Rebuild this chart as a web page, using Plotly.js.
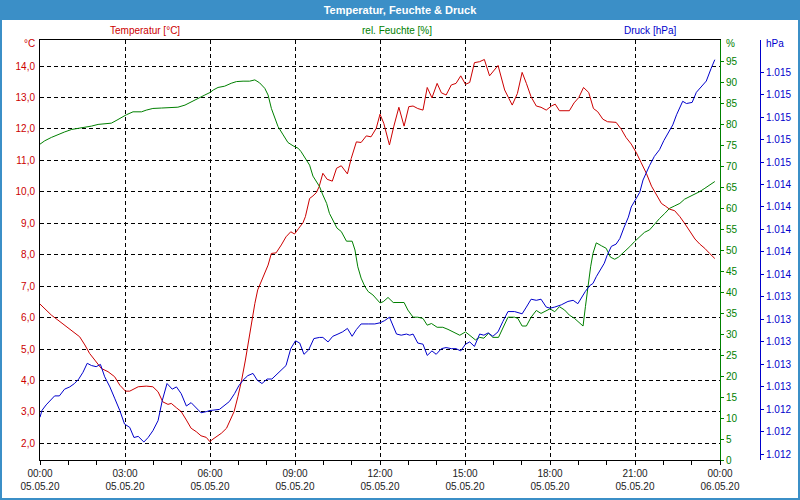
<!DOCTYPE html>
<html>
<head>
<meta charset="utf-8">
<script src="https://cdn.plot.ly/plotly-3.0.1.min.js"></script>
<style>html,body{margin:0;padding:0;background:#fff;}#chart{width:800px;height:500px;}</style>
</head>
<body>
<div id="chart"></div>
<script>
// ---- Data (hours after 05.05.20 00:00, value) ----
const tempHours = [0.00,0.16,0.40,0.64,0.87,1.05,1.22,1.40,1.58,1.75,1.93,2.16,2.40,2.64,2.81,3.01,3.16,3.46,3.75,3.99,4.16,4.34,4.52,4.64,4.81,4.99,5.16,5.34,5.52,5.69,5.87,6.00,6.05,6.22,6.40,6.58,6.69,6.85,6.99,7.11,7.25,7.36,7.46,7.58,7.69,7.84,7.95,8.05,8.16,8.34,8.52,8.69,8.85,8.99,9.13,9.28,9.36,9.52,9.64,9.75,9.85,9.99,10.14,10.31,10.46,10.64,10.85,10.99,11.16,11.34,11.52,11.69,11.87,12.00,12.14,12.20,12.34,12.49,12.67,12.85,13.01,13.16,13.34,13.52,13.66,13.84,14.01,14.16,14.34,14.52,14.69,14.85,15.01,15.16,15.34,15.52,15.69,15.87,16.01,16.16,16.40,16.66,16.85,17.01,17.16,17.34,17.52,17.69,17.87,18.05,18.19,18.34,18.69,18.85,19.01,19.19,19.36,19.54,19.69,19.86,20.04,20.34,20.52,20.69,20.87,21.05,21.22,21.40,21.58,21.75,21.93,22.07,22.22,22.40,22.58,22.75,22.93,23.11,23.28,23.46,23.64,23.82];
const tempValues = [6.43,6.29,6.08,5.92,5.76,5.63,5.50,5.39,5.13,4.86,4.65,4.38,4.28,4.12,3.85,3.66,3.66,3.80,3.82,3.80,3.64,3.32,3.24,3.27,3.13,3.01,2.74,2.48,2.37,2.24,2.19,2.05,2.10,2.21,2.32,2.48,2.69,3.01,3.48,4.01,4.65,5.29,5.92,6.45,6.88,7.19,7.46,7.67,8.04,8.06,8.31,8.57,8.73,8.66,8.84,9.02,9.21,9.79,9.87,9.97,10.16,10.59,10.40,10.34,10.75,10.83,10.57,11.06,11.59,11.57,11.78,11.75,12.02,12.47,12.18,11.96,11.49,12.07,12.69,12.09,12.71,12.73,12.65,12.60,13.32,12.99,13.45,13.15,13.08,13.40,13.45,13.69,13.42,13.48,14.11,14.14,14.21,13.69,13.87,14.02,13.24,12.76,13.13,13.80,13.45,13.02,12.73,12.69,12.60,12.73,12.79,12.58,12.58,12.83,13.00,13.32,13.16,12.65,12.55,12.31,12.23,12.21,11.99,11.73,11.52,11.24,10.93,10.59,10.18,9.92,9.63,9.55,9.45,9.40,9.21,9.00,8.73,8.50,8.34,8.20,8.04,7.88];

const humHours = [0.00,0.16,0.40,0.64,0.87,1.11,1.34,1.58,1.81,2.05,2.28,2.52,2.69,2.87,3.05,3.28,3.58,3.75,3.99,4.28,4.58,4.87,5.11,5.34,5.58,5.81,6.00,6.11,6.28,6.52,6.75,6.93,7.16,7.40,7.58,7.75,7.93,8.05,8.16,8.28,8.40,8.58,8.75,8.93,9.11,9.22,9.34,9.52,9.64,9.75,9.87,9.99,10.11,10.22,10.38,10.49,10.64,10.81,11.01,11.11,11.22,11.34,11.46,11.58,11.75,11.87,12.00,12.11,12.28,12.46,12.64,12.85,12.99,13.16,13.34,13.52,13.67,13.81,14.02,14.22,14.40,14.64,14.81,15.01,15.20,15.36,15.52,15.67,15.84,15.99,16.19,16.35,16.52,16.75,16.87,17.01,17.16,17.34,17.52,17.69,17.87,18.00,18.16,18.34,18.52,18.69,18.87,19.05,19.16,19.25,19.34,19.44,19.52,19.64,19.81,19.99,20.14,20.28,20.42,20.64,20.81,20.99,21.16,21.34,21.52,21.69,21.87,22.05,22.22,22.40,22.58,22.75,22.93,23.11,23.28,23.46,23.64,23.82];
const humValues = [75.2,76.0,76.8,77.5,78.1,78.7,78.9,79.2,79.5,79.9,80.0,80.2,80.8,81.6,82.2,82.9,82.9,83.3,83.7,83.8,83.9,84.0,84.5,85.3,86.1,86.9,87.5,88.1,88.7,89.0,89.7,90.1,90.2,90.2,90.5,89.8,88.5,86.9,83.7,81.3,79.4,77.4,75.6,74.8,74.2,73.4,72.1,70.2,67.6,66.3,65.1,63.1,61.1,58.7,56.7,55.2,54.4,52.1,52.1,50.0,46.0,43.3,41.3,40.1,39.3,38.5,37.4,37.7,38.7,37.5,37.5,37.5,35.7,34.0,34.0,33.7,32.1,32.5,31.6,31.6,31.1,30.3,29.7,30.5,29.5,28.6,29.2,29.0,30.2,29.2,29.2,31.7,34.0,34.0,33.7,31.9,31.9,34.0,35.6,34.9,35.6,36.0,35.3,36.5,35.7,34.5,33.7,32.7,31.9,36.5,41.3,46.0,49.2,51.7,51.0,50.4,48.3,47.8,48.3,49.6,50.8,52.0,53.2,54.2,54.8,56.2,57.5,58.7,59.9,60.5,61.1,62.1,62.7,63.3,63.9,64.7,65.5,66.3];

const presHours = [0.00,0.07,0.22,0.40,0.52,0.69,0.87,1.05,1.22,1.36,1.52,1.67,1.81,1.99,2.14,2.28,2.46,2.64,2.81,2.99,3.16,3.32,3.46,3.67,3.81,3.99,4.16,4.31,4.49,4.66,4.81,4.99,5.16,5.34,5.52,5.69,5.87,6.00,6.34,6.52,6.69,6.87,7.01,7.16,7.34,7.52,7.67,7.84,8.02,8.19,8.38,8.54,8.69,8.85,9.01,9.16,9.32,9.48,9.67,9.87,9.99,10.16,10.34,10.52,10.69,10.85,11.01,11.16,11.34,11.58,11.81,12.00,12.16,12.34,12.46,12.58,12.75,12.93,13.05,13.16,13.34,13.52,13.67,13.84,13.99,14.16,14.34,14.52,14.69,14.85,15.01,15.16,15.34,15.52,15.67,15.81,15.99,16.16,16.34,16.52,16.75,17.01,17.16,17.34,17.52,17.69,17.87,18.00,18.16,18.40,18.64,18.81,18.99,19.11,19.25,19.40,19.52,19.64,19.76,19.91,20.02,20.16,20.34,20.46,20.62,20.76,20.87,21.01,21.16,21.28,21.40,21.52,21.69,21.87,22.02,22.19,22.34,22.46,22.61,22.69,22.81,23.01,23.16,23.34,23.52,23.69,23.82];
const presValues = [1012.33,1012.39,1012.44,1012.49,1012.52,1012.52,1012.58,1012.60,1012.63,1012.67,1012.73,1012.81,1012.79,1012.78,1012.80,1012.69,1012.60,1012.50,1012.39,1012.27,1012.24,1012.15,1012.16,1012.11,1012.15,1012.21,1012.30,1012.48,1012.63,1012.58,1012.60,1012.54,1012.43,1012.46,1012.41,1012.37,1012.38,1012.39,1012.40,1012.44,1012.47,1012.54,1012.61,1012.66,1012.70,1012.72,1012.66,1012.63,1012.67,1012.67,1012.72,1012.75,1012.79,1012.94,1013.01,1012.99,1012.89,1012.93,1013.03,1013.04,1013.04,1013.00,1013.05,1013.07,1013.09,1013.12,1013.05,1013.11,1013.16,1013.16,1013.16,1013.17,1013.19,1013.22,1013.13,1013.07,1013.06,1013.07,1013.06,1013.07,1012.99,1012.98,1012.88,1012.92,1012.89,1012.94,1012.95,1012.94,1012.94,1012.92,1012.98,1013.00,1012.96,1013.07,1013.06,1013.08,1013.05,1013.09,1013.18,1013.27,1013.27,1013.25,1013.31,1013.38,1013.37,1013.38,1013.31,1013.30,1013.31,1013.33,1013.36,1013.37,1013.34,1013.40,1013.45,1013.50,1013.52,1013.58,1013.64,1013.70,1013.77,1013.85,1013.87,1013.92,1014.02,1014.11,1014.20,1014.26,1014.33,1014.44,1014.51,1014.57,1014.65,1014.71,1014.79,1014.87,1014.93,1015.02,1015.11,1015.14,1015.12,1015.13,1015.22,1015.27,1015.32,1015.43,1015.51];

// ---- Axis ticks / ranges ----
const tempTicks = [2,3,4,5,6,7,8,9,10,11,12,13,14];
const tempRange = [1.47, 14.83];
const humTicks = [0,5,10,15,20,25,30,35,40,45,50,55,60,65,70,75,80,85,90,95];
const humRange = [0, 100];
const presTicks = [1012.0,1012.2,1012.4,1012.6,1012.8,1013.0,1013.2,1013.4,1013.6,1013.8,1014.0,1014.2,1014.4,1014.6,1014.8,1015.0,1015.2,1015.4];
const presRange = [1011.95, 1015.685];

const titleText = 'Temperatur, Feuchte & Druck';
const seriesNames = ['Temperatur [°C]', 'rel. Feuchte [%]', 'Druck [hPa]'];
const unitLabels = ['°C', '%', 'hPa'];

// ---- Helpers ----
const base = Date.UTC(2020, 4, 5, 0, 0, 0);
const HOUR = 3600000;
const toTime = hs => hs.map(h => base + Math.round(h * 60) * 60000);

const W = 800, H = 500, ML = 40, MR = 40, MT = 40, MB = 40;
const fx = px => (px - ML) / (W - ML - MR);
const fy = py => (H - MB - py) / (H - MT - MB);

const FONT = '"Liberation Sans", Arial, sans-serif';
const RED = '#cc0000', GREEN = '#008000', BLUE = '#0000cc', BAR = '#3b8fc7';

const traces = [
  {x: toTime(humHours), y: humValues, yaxis: 'y2', type: 'scatter', mode: 'lines',
   line: {color: GREEN, width: 1}, hoverinfo: 'skip'},
  {x: toTime(presHours), y: presValues, yaxis: 'y3', type: 'scatter', mode: 'lines',
   line: {color: BLUE, width: 1}, hoverinfo: 'skip'},
  {x: toTime(tempHours), y: tempValues, yaxis: 'y', type: 'scatter', mode: 'lines',
   line: {color: RED, width: 1}, hoverinfo: 'skip'}
];

const layout = {
  width: W, height: H,
  margin: {l: ML, r: MR, t: MT, b: MB, pad: 0},
  paper_bgcolor: '#ffffff', plot_bgcolor: '#ffffff',
  showlegend: false,
  separators: ',.',
  font: {family: FONT, size: 10, color: '#222'},
  title: {text: titleText, font: {family: FONT, size: 11, color: '#ffffff', weight: 'bold'},
          x: 0.5, xref: 'container', xanchor: 'center', y: 1 - 10 / H, yref: 'container', yanchor: 'middle'},
  xaxis: {
    type: 'date', domain: [0, fx(720)],
    range: [base, base + 24 * HOUR],
    tick0: base, dtick: 3 * HOUR, tickformat: '%H:%M<br>%d.%m.%y',
    tickfont: {family: FONT, size: 10, color: '#222'},
    showgrid: true, gridcolor: '#000', gridwidth: 1, griddash: '4px,3px',
    showline: true, linecolor: '#000', linewidth: 1, mirror: true,
    ticks: 'outside', ticklen: 4, tickcolor: '#000', tickwidth: 1,
    minor: {dtick: HOUR, ticks: 'outside', ticklen: 4, tickcolor: '#000', tickwidth: 1, showgrid: false},
    zeroline: false, fixedrange: true
  },
  yaxis: {
    range: tempRange, tickvals: tempTicks, tickformat: '.1f',
    tickfont: {family: FONT, size: 10, color: RED},
    showgrid: true, gridcolor: '#000', gridwidth: 1, griddash: '4px,3px',
    showline: true, linecolor: '#000', linewidth: 1,
    ticks: 'outside', ticklen: 2, tickcolor: '#fff',
    zeroline: false, fixedrange: true
  },
  yaxis2: {
    overlaying: 'y', side: 'right', anchor: 'x',
    range: humRange, tickvals: humTicks, tickformat: 'd',
    tickfont: {family: FONT, size: 10, color: GREEN},
    showgrid: false, showline: true, linecolor: GREEN, linewidth: 1,
    ticks: 'outside', ticklen: 3, tickcolor: GREEN, tickwidth: 1,
    zeroline: false, fixedrange: true
  },
  yaxis3: {
    overlaying: 'y', side: 'right', anchor: 'free', position: 1,
    range: presRange, tickvals: presTicks, tickformat: ',.0f',
    tickfont: {family: FONT, size: 10, color: BLUE},
    showgrid: false, showline: true, linecolor: BLUE, linewidth: 1,
    ticks: 'outside', ticklen: 3, tickcolor: BLUE, tickwidth: 1,
    zeroline: false, fixedrange: true
  },
  shapes: [
    {type: 'rect', xref: 'paper', yref: 'paper', x0: fx(0), x1: fx(800), y0: fy(20), y1: fy(0),
     fillcolor: BAR, line: {width: 0}, layer: 'below'},
    {type: 'rect', xref: 'paper', yref: 'paper', x0: fx(1), x1: fx(799), y0: fy(499), y1: fy(1),
     fillcolor: 'rgba(0,0,0,0)', line: {color: BAR, width: 2}, layer: 'above'}
  ],
  annotations: [
    {text: seriesNames[0], xref: 'paper', yref: 'paper', x: fx(145), y: fy(30), xanchor: 'center', yanchor: 'middle', showarrow: false, font: {family: FONT, size: 10, color: RED}},
    {text: seriesNames[1], xref: 'paper', yref: 'paper', x: fx(397), y: fy(30), xanchor: 'center', yanchor: 'middle', showarrow: false, font: {family: FONT, size: 10, color: GREEN}},
    {text: seriesNames[2], xref: 'paper', yref: 'paper', x: fx(650), y: fy(30), xanchor: 'center', yanchor: 'middle', showarrow: false, font: {family: FONT, size: 10, color: BLUE}},
    {text: unitLabels[0], xref: 'paper', yref: 'paper', x: fx(37), y: fy(44), xanchor: 'right', yanchor: 'middle', showarrow: false, font: {family: FONT, size: 10, color: RED}},
    {text: unitLabels[1], xref: 'paper', yref: 'paper', x: fx(724), y: fy(44), xanchor: 'left', yanchor: 'middle', showarrow: false, font: {family: FONT, size: 10, color: GREEN}},
    {text: unitLabels[2], xref: 'paper', yref: 'paper', x: fx(764), y: fy(44), xanchor: 'left', yanchor: 'middle', showarrow: false, font: {family: FONT, size: 10, color: BLUE}}
  ]
};

Plotly.newPlot('chart', traces, layout, {staticPlot: true, displayModeBar: false});
</script>
</body>
</html>
